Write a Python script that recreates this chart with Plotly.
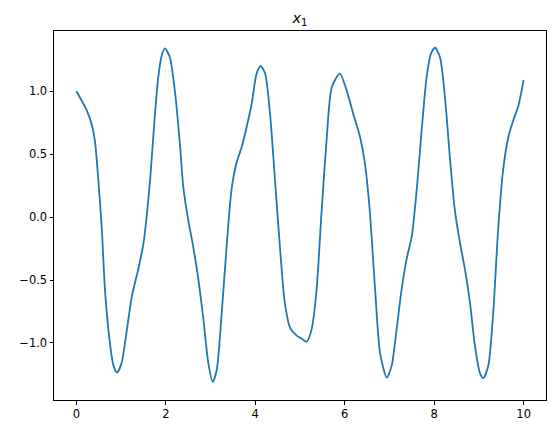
import plotly.graph_objects as go

t_vals = [0.0, 0.23, 0.34, 0.42, 0.49, 0.57, 0.64, 0.74, 0.83, 0.91, 1.01, 1.12, 1.24, 1.38, 1.50, 1.57, 1.65, 1.73, 1.83, 1.91, 1.98,
          2.09, 2.20, 2.32, 2.39, 2.50, 2.61, 2.73, 2.84, 2.95, 3.05, 3.14, 3.25, 3.36, 3.47, 3.58, 3.70, 3.81, 3.92, 4.03, 4.12,
          4.22, 4.33, 4.44, 4.55, 4.66, 4.78, 4.92, 5.04, 5.15, 5.26, 5.37, 5.48, 5.60, 5.71, 5.89, 6.04, 6.19, 6.34, 6.45, 6.56,
          6.68, 6.79, 6.94, 7.05, 7.16, 7.27, 7.38, 7.50, 7.61, 7.72, 7.83, 7.93, 8.02, 8.13, 8.24, 8.35, 8.46, 8.58, 8.69, 8.80,
          8.91, 9.02, 9.10, 9.21, 9.32, 9.43, 9.54, 9.66, 9.77, 9.88, 10.0]
x1_vals = [1.0, 0.85, 0.74, 0.59, 0.30, -0.10, -0.58, -0.97, -1.18, -1.235, -1.16, -0.92, -0.63, -0.42, -0.21, 0.0, 0.30, 0.69, 1.11, 1.285, 1.34,
           1.27, 1.01, 0.56, 0.24, -0.02, -0.23, -0.50, -0.81, -1.16, -1.31, -1.21, -0.76, -0.23, 0.22, 0.43, 0.56, 0.72, 0.90, 1.14, 1.20,
           1.14, 0.82, 0.30, -0.23, -0.68, -0.88, -0.94, -0.966, -0.99, -0.89, -0.58, 0.03, 0.64, 1.03, 1.14, 1.01, 0.82, 0.64, 0.43, 0.05,
           -0.58, -1.08, -1.275, -1.18, -0.89, -0.58, -0.34, -0.15, 0.22, 0.69, 1.11, 1.30, 1.345, 1.27, 0.955, 0.48, 0.06, -0.21, -0.42, -0.68,
           -1.02, -1.235, -1.28, -1.18, -0.76, -0.10, 0.37, 0.64, 0.77, 0.88, 1.09]

x_tick_vals = [0, 2, 4, 6, 8, 10]
x_tick_text = ["0", "2", "4", "6", "8", "10"]
y_tick_vals = [-1.0, -0.5, 0.0, 0.5, 1.0]
y_tick_text = ["\u22121.0", "\u22120.5", "0.0", "0.5", "1.0"]

fig = go.Figure()
fig.add_trace(go.Scatter(x=t_vals, y=x1_vals, mode="lines",
                         line=dict(color="#1f77b4", width=1.8, shape="spline", smoothing=0.7),
                         showlegend=False))

axis_common = dict(showgrid=False, zeroline=False, showline=True, linecolor="black", linewidth=1,
                   mirror=True, ticks="outside", ticklen=3.5, tickwidth=0.9, tickcolor="black",
                   automargin=False,
                   tickfont=dict(family="DejaVu Sans", size=11.5, color="black"))

fig.update_layout(
    width=559, height=434,
    margin=dict(l=54, r=13, t=31, b=34, pad=0),
    paper_bgcolor="white", plot_bgcolor="white",
    title=dict(text="<i>x</i><sub>1</sub>", x=0.5, xref="paper", xanchor="center",
               y=0.958, yref="container", yanchor="middle", automargin=False,
               font=dict(family="DejaVu Sans", size=14.5, color="black")),
    xaxis=dict(range=[-0.5, 10.5], tickvals=x_tick_vals, ticktext=x_tick_text, **axis_common),
    yaxis=dict(range=[-1.453, 1.478], tickvals=y_tick_vals, ticktext=y_tick_text, **axis_common),
)

fig.write_html("out.html", config={"displayModeBar": False},
               post_script="document.body.style.margin='0';document.body.style.overflow='hidden';")
